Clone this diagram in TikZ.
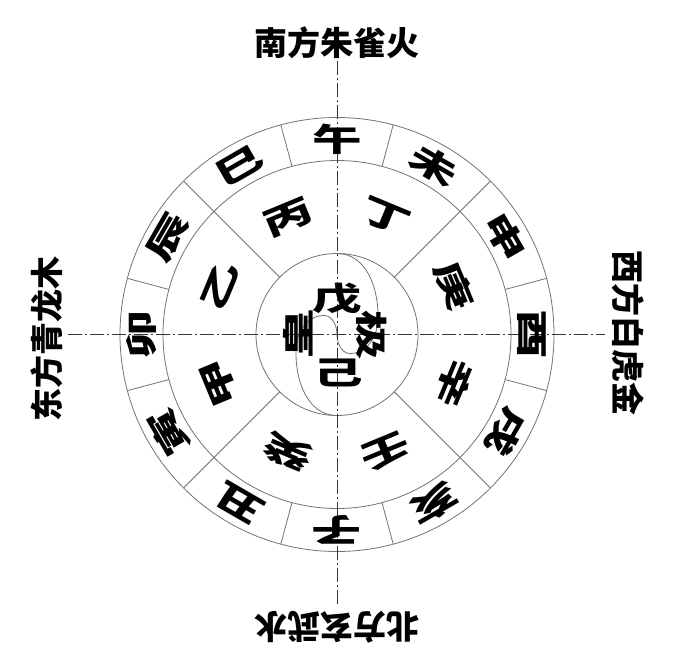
\documentclass[tikz,border=0pt]{standalone}
\usepackage{fontspec}
\newfontfamily\cjk{Noto Sans CJK SC}
\newcommand\gzwide[1]{\scalebox{1.55}[1]{#1}}
\begin{document}
\begin{tikzpicture}[x=1pt,y=1pt,
  ringline/.style={draw=black!55, line width=0.8pt},
  axisline/.style={draw=black!80, line width=0.9pt, dash pattern=on 14pt off 3pt on 2pt off 3pt},
  gz/.style={font=\cjk\bfseries\fontsize{32}{32}\selectfont, inner sep=0pt},
  dirlabel/.style={font=\cjk\bfseries\fontsize{33}{33}\selectfont, inner sep=0pt}]
\fill[white] (0,0) rectangle (690,665);
\useasboundingbox (0,0) rectangle (690,665);
\begin{scope}[shift={(337,330.5)}]
  % rings
  \draw[ringline] (0,0) circle[radius=217];
  \draw[ringline] (0,0) circle[radius=174];
  \draw[ringline] (0,0) circle[radius=81];
  \foreach \a in {15,45,...,345} \draw[ringline] (\a:174) -- (\a:217);
  \foreach \a in {45,135,225,315} \draw[ringline] (\a:81) -- (\a:174);
  % taichi curve
  \draw[ringline] (0,81) .. controls (30,81) and (42,45) .. (41,15)
     .. controls (40,-8) and (25,-20) .. (12,-19) .. controls (4,-18) and (0,-8) .. (0,0);
  \draw[ringline] (0,-81) .. controls (-30,-81) and (-42,-45) .. (-41,-15)
     .. controls (-40,8) and (-25,20) .. (-12,19) .. controls (-4,18) and (0,8) .. (0,0);
  % axes
  \coordinate (axT) at (0,273);
  \coordinate (axB) at (0,-270);
  \coordinate (axL) at (-269,0);
  \coordinate (axR) at (268,0);
  \draw[axisline] (axT) -- (axB);
  \draw[axisline] (axL) -- (axR);
  % earthly branches
  \foreach \c/\a [count=\i] in {午/90,未/60,申/30,酉/0,戌/-30,亥/-60,子/-90,丑/-120,寅/-150,卯/180,辰/150,巳/120}{
    \pgfmathsetmacro\rot{\a-90}
    \node[gz, rotate=\rot] (br\i) at (\a:195) {\gzwide{\c}};
  }
  % heavenly stems
  \foreach \c/\a [count=\i] in {丙/112.5,丁/67.5,庚/22.5,辛/-22.5,壬/-67.5,癸/-112.5,甲/202.5,乙/157.5}{
    \pgfmathsetmacro\rot{\a-90}
    \node[gz, rotate=\rot] (st\i) at (\a:127) {\gzwide{\c}};
  }
  % centre
  \node[gz] (wu) at (0,36) {\gzwide{戊}};
  \node[gz] (ji) at (1,-38) {\gzwide{己}};
  \node[gz, rotate=90] (huang) at (-39,1) {\gzwide{皇}};
  \node[gz, rotate=-90] (jiz) at (35,-1) {\gzwide{极}};
  % direction labels
  \node[dirlabel] (south) at (0,292) {南方朱雀火};
  \node[dirlabel, rotate=180] (north) at (0,-293) {北方玄武水};
  \node[dirlabel, rotate=90] (east) at (-290,-4) {东方青龙木};
  \node[dirlabel, rotate=-90] (west) at (291,1) {西方白虎金};
\end{scope}
\end{tikzpicture}
\end{document}
